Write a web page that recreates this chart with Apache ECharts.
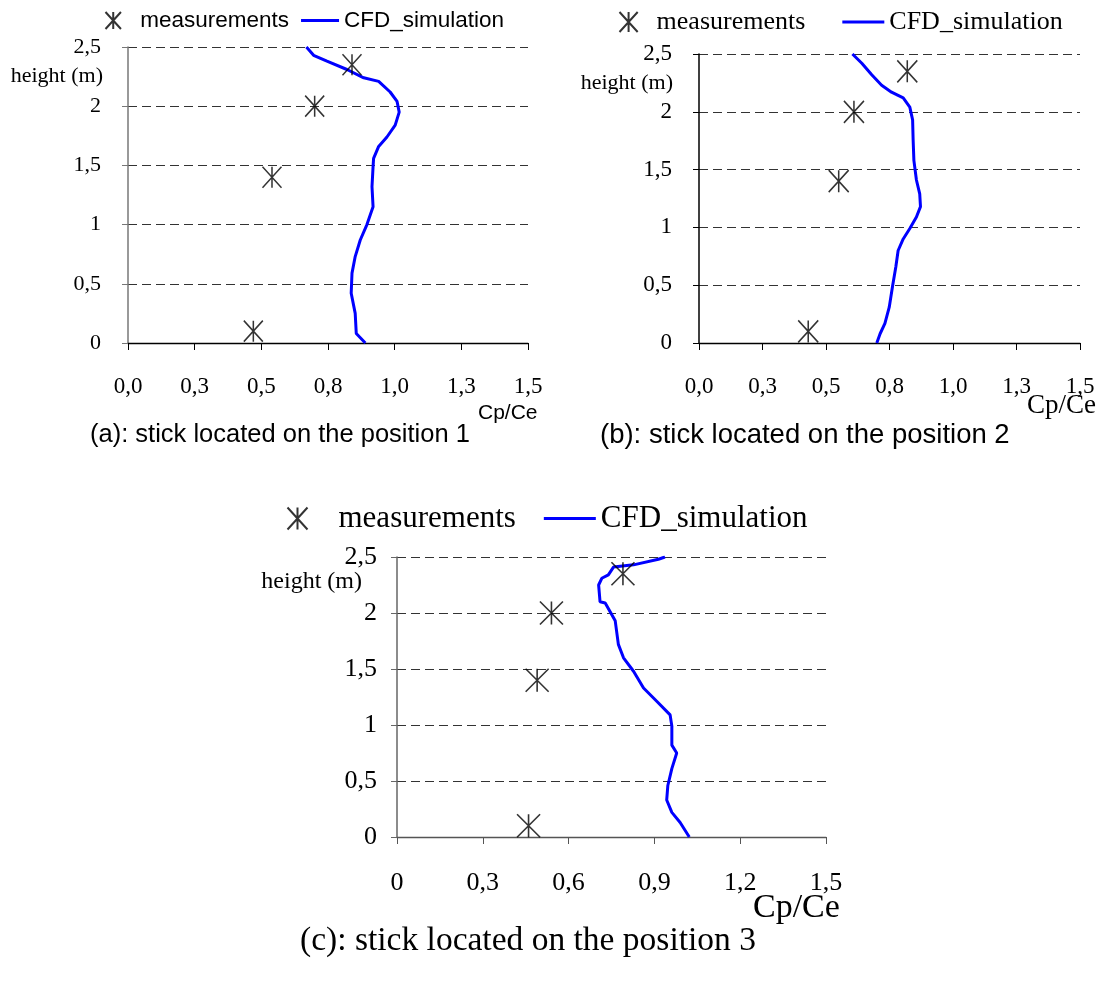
<!DOCTYPE html>
<html>
<head>
<meta charset="utf-8">
<script src="https://cdn.jsdelivr.net/npm/echarts@6/dist/echarts.min.js"></script>
<style>
html, body { margin: 0; padding: 0; background: #fff; }
#main { width: 1102px; height: 983px; }
</style>
</head>
<body>
<div id="main"></div>
<script>
// heights of the measuring points on the stick (m)
var measHeights = [0.1, 1.4, 2.0, 2.35];
// measured Cp/Ce, one array per stick position
var measA = [0.47, 0.54, 0.70, 0.84];
var measB = [0.43, 0.55, 0.61, 0.82];
var measC = [0.46, 0.49, 0.54, 0.79];

// CFD profiles (height, Cp/Ce) from bottom to top
var cfdHeightsA = [0, 0.08, 0.25, 0.42, 0.59, 0.73, 0.87, 1.0, 1.15, 1.32, 1.49, 1.56, 1.66, 1.74, 1.84, 1.95, 2.04, 2.12, 2.21, 2.24, 2.31, 2.38, 2.43, 2.5];
var cfdA = [0.89, 0.856, 0.852, 0.837, 0.84, 0.852, 0.871, 0.896, 0.919, 0.915, 0.919, 0.921, 0.94, 0.971, 1.002, 1.017, 1.009, 0.983, 0.94, 0.884, 0.821, 0.746, 0.696, 0.669];

var cfdHeightsB = [0, 0.08, 0.17, 0.31, 0.49, 0.66, 0.80, 0.90, 0.99, 1.09, 1.18, 1.29, 1.41, 1.58, 1.76, 1.93, 2.04, 2.12, 2.17, 2.23, 2.32, 2.42, 2.5];
var cfdB = [0.70, 0.713, 0.732, 0.749, 0.762, 0.775, 0.784, 0.804, 0.83, 0.856, 0.872, 0.869, 0.856, 0.846, 0.843, 0.841, 0.83, 0.804, 0.758, 0.719, 0.68, 0.641, 0.604];

var cfdHeightsC = [0, 0.13, 0.22, 0.33, 0.46, 0.61, 0.75, 0.82, 0.99, 1.09, 1.21, 1.33, 1.48, 1.60, 1.72, 1.93, 2.09, 2.10, 2.25, 2.31, 2.34, 2.41, 2.43, 2.48, 2.5];
var cfdC = [1.022, 0.99, 0.961, 0.943, 0.947, 0.961, 0.978, 0.961, 0.961, 0.955, 0.909, 0.862, 0.827, 0.792, 0.774, 0.763, 0.728, 0.71, 0.705, 0.716, 0.739, 0.757, 0.827, 0.914, 0.937];

// tick labels as printed (decimal comma)
var xLabelsAB = ['0,0', '0,3', '0,5', '0,8', '1,0', '1,3', '1,5'];
var xLabelsC = ['0', '0,3', '0,6', '0,9', '1,2', '1,5'];
var yLabels = ['0', '0,5', '1', '1,5', '2', '2,5'];

var serif = 'Liberation Serif';
var sans = 'Liberation Sans';
var star = 'path://M0,0L20,22M20,0L0,22M10,0L10,22';

function pairs(xs, ys) {
    return xs.map(function (x, i) { return [x, ys[i]]; });
}

function xAxisFor(gi, labels, interval, opt) {
    return {
        type: 'value', gridIndex: gi, min: 0, max: 1.5, interval: interval,
        axisLine: { lineStyle: { color: opt.color, width: 1.3 } },
        axisTick: { length: 7, lineStyle: { color: opt.color } },
        splitLine: { show: false },
        axisLabel: {
            margin: opt.margin, color: '#000', fontFamily: serif, fontSize: opt.fontSize,
            formatter: function (v, i) { return labels[i]; }
        }
    };
}

function yAxisFor(gi, opt) {
    return {
        type: 'value', gridIndex: gi, min: 0, max: 2.5, interval: 0.5,
        axisLine: { show: true, lineStyle: { color: opt.color, width: 1.5 } },
        axisTick: { show: true, length: 6, lineStyle: { color: opt.color } },
        splitLine: { show: true, lineStyle: { color: '#333', type: [9, 5], width: 1 } },
        axisLabel: {
            margin: opt.margin, color: '#000', fontFamily: serif, fontSize: opt.fontSize,
            padding: [6, 0, 0, 0],
            formatter: function (v, i) { return yLabels[i]; }
        },
        name: 'height (m)', nameLocation: 'end', nameGap: opt.nameGap,
        nameTextStyle: {
            color: '#000', fontFamily: serif, fontSize: opt.nameSize,
            align: 'right', verticalAlign: 'middle', padding: [0, opt.namePad, 0, 0]
        }
    };
}

function measSeries(gi, xs, size) {
    return {
        name: 'measurements', type: 'scatter', xAxisIndex: gi, yAxisIndex: gi,
        data: pairs(xs, measHeights),
        symbol: star, symbolSize: size, symbolKeepAspect: false,
        itemStyle: { color: 'none', borderColor: '#000', borderWidth: 1.6 },
        z: 3
    };
}

function cfdSeries(gi, xs, ys) {
    return {
        name: 'CFD_simulation', type: 'line', xAxisIndex: gi, yAxisIndex: gi,
        data: pairs(xs, ys),
        symbol: 'none', showSymbol: false,
        lineStyle: { color: '#0000ff', width: 3 },
        itemStyle: { color: '#0000ff' }
    };
}

function legendFor(left, top, opt) {
    return {
        left: left, top: top, padding: 0, orient: 'horizontal',
        itemWidth: opt.itemWidth, itemHeight: opt.itemHeight, itemGap: opt.itemGap,
        textStyle: { color: '#000', fontFamily: opt.family, fontSize: opt.fontSize },
        data: [
            { name: 'measurements', textStyle: { padding: [0, 0, 0, opt.textShift] } },
            { name: 'CFD_simulation', icon: 'path://M0,0H' + opt.itemWidth + 'V3H0Z' }
        ]
    };
}

function label(text, x, y, font, align) {
    return {
        type: 'text', x: x, y: y,
        style: { text: text, font: font, fill: '#000', align: align || 'left', verticalAlign: 'middle' }
    };
}

var chart = echarts.init(document.getElementById('main'));

var option = {
    animation: false,
    backgroundColor: '#fff',
    grid: [
        { left: 128, top: 47, width: 400, height: 296 },
        { left: 699, top: 54, width: 381, height: 289 },
        { left: 397, top: 557, width: 429, height: 280 }
    ],
    xAxis: [
        xAxisFor(0, xLabelsAB, 0.25, { color: '#000', margin: 32, fontSize: 23 }),
        xAxisFor(1, xLabelsAB, 0.25, { color: '#000', margin: 32, fontSize: 23 }),
        xAxisFor(2, xLabelsC, 0.3, { color: '#555', margin: 33, fontSize: 26 })
    ],
    yAxis: [
        yAxisFor(0, { color: '#777', margin: 27, fontSize: 22, nameGap: -29, nameSize: 22, namePad: 25 }),
        yAxisFor(1, { color: '#000', margin: 27, fontSize: 23, nameGap: -29, nameSize: 22, namePad: 26 }),
        yAxisFor(2, { color: '#666', margin: 20, fontSize: 26, nameGap: -25, nameSize: 24, namePad: 35 })
    ],
    legend: [
        legendFor(103, 9, { itemWidth: 38, itemHeight: 17, itemGap: 12, family: sans, fontSize: 22.5, textShift: 3 }),
        legendFor(617, 9, { itemWidth: 42, itemHeight: 20, itemGap: 37, family: serif, fontSize: 26, textShift: 2 }),
        legendFor(285, 503, { itemWidth: 52, itemHeight: 22, itemGap: 28, family: serif, fontSize: 31, textShift: 10 })
    ],
    series: [
        measSeries(0, measA, [19, 21]),
        cfdSeries(0, cfdA, cfdHeightsA),
        measSeries(1, measB, [20, 22]),
        cfdSeries(1, cfdB, cfdHeightsB),
        measSeries(2, measC, [23, 23]),
        cfdSeries(2, cfdC, cfdHeightsC)
    ],
    graphic: [
        label('Cp/Ce', 478, 413, '21px "Liberation Sans"'),
        label('Cp/Ce', 1027, 406, '27px "Liberation Serif"'),
        label('Cp/Ce', 753, 908, '34px "Liberation Serif"'),
        label('(a): stick located on the position 1', 90, 435, '25.5px "Liberation Sans"'),
        label('(b): stick located on the position 2', 600, 435, '27.5px "Liberation Sans"'),
        label('(c): stick located on the position 3', 528, 941, '33.5px "Liberation Serif"', 'center')
    ]
};

chart.setOption(option);
</script>
</body>
</html>
